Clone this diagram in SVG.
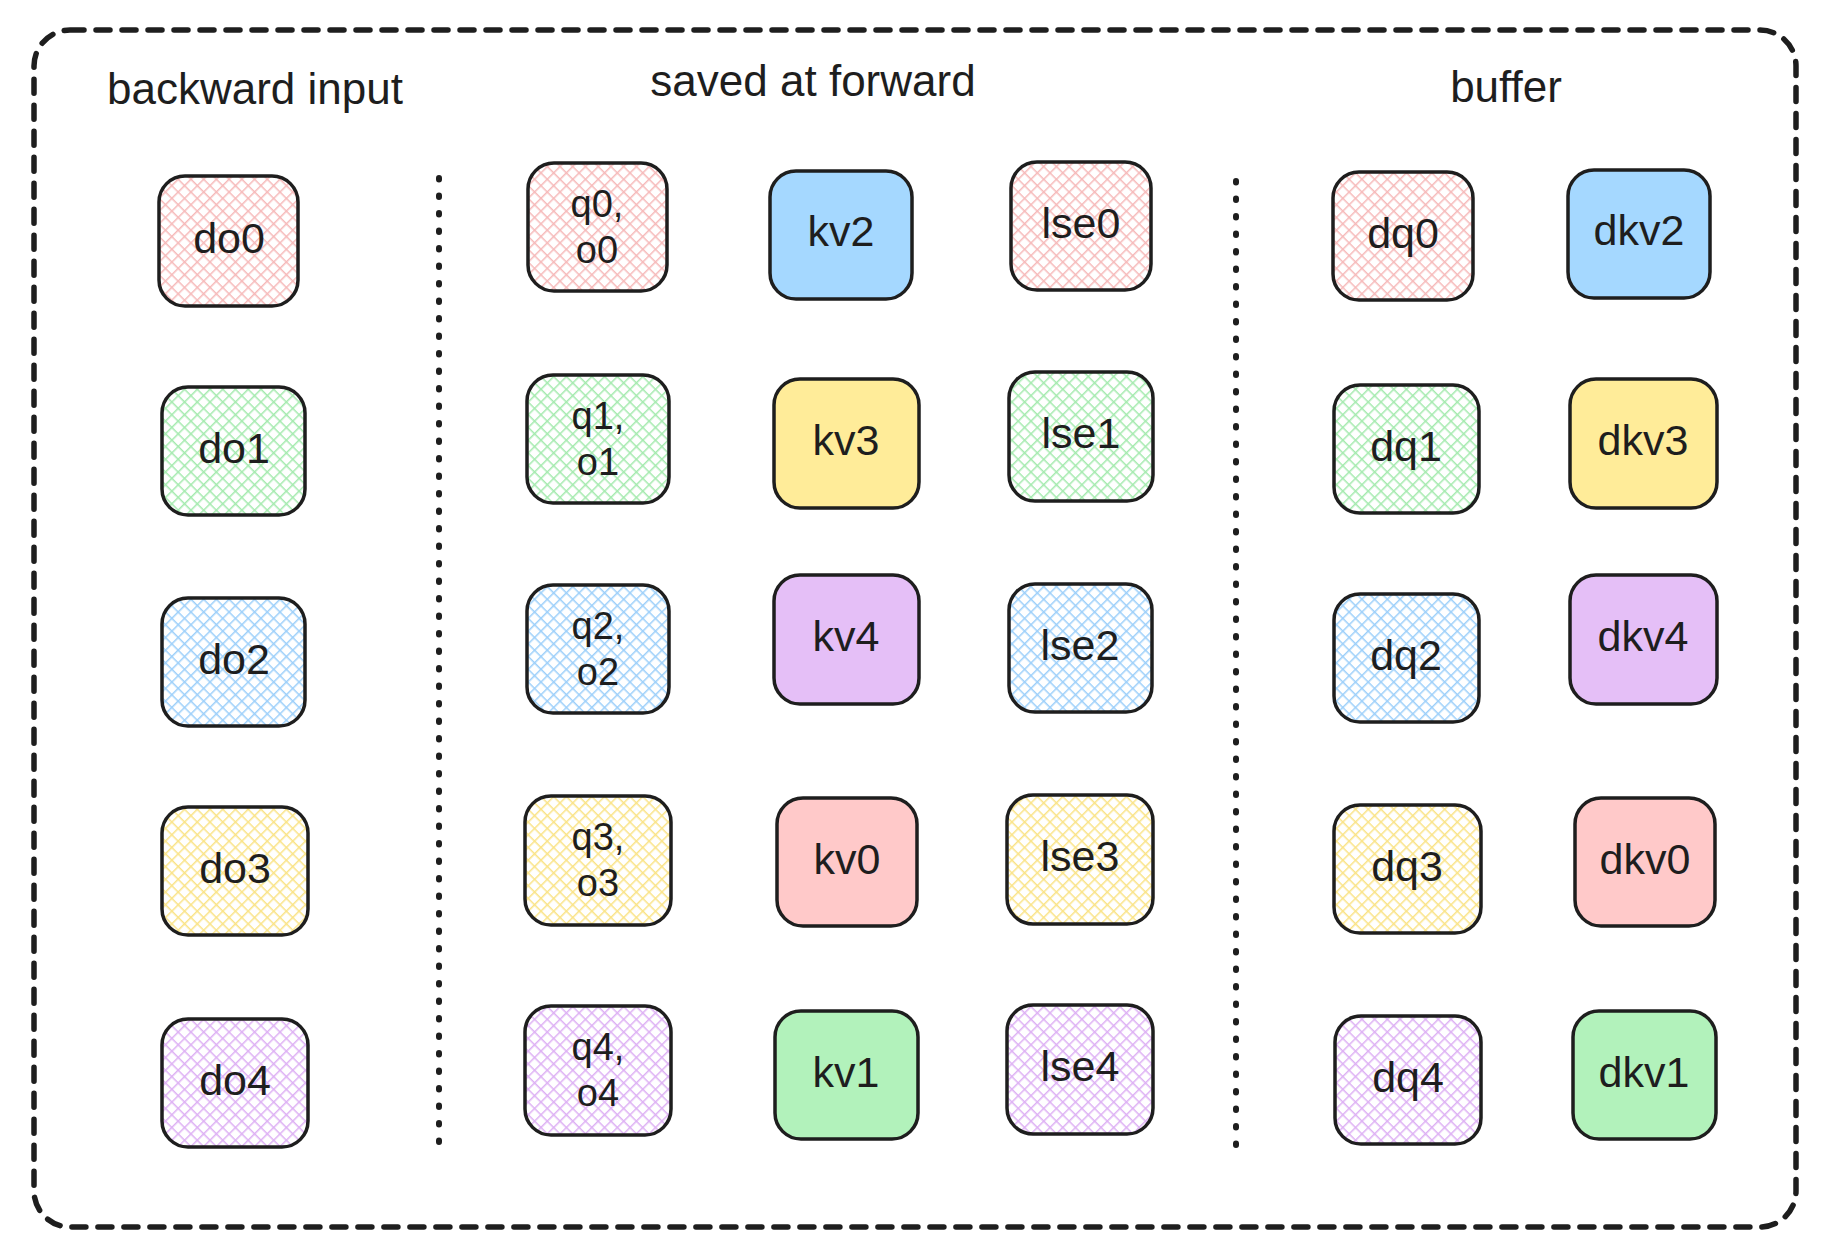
<svg xmlns="http://www.w3.org/2000/svg" width="1824" height="1250" viewBox="0 0 1824 1250">
<style>
.title{font-family:"Liberation Sans","DejaVu Sans",sans-serif;font-size:44px;fill:#1e1e1e;text-anchor:middle;dominant-baseline:central}
.lbl{font-family:"Liberation Sans","DejaVu Sans",sans-serif;font-size:43px;fill:#1e1e1e;text-anchor:middle;dominant-baseline:central}
.lbl2{font-family:"Liberation Sans","DejaVu Sans",sans-serif;font-size:38px;fill:#1e1e1e;text-anchor:middle;dominant-baseline:central}
.box{stroke:#1e1e1e;stroke-width:3.5}
.border{fill:none;stroke:#1e1e1e;stroke-width:5.5;stroke-dasharray:14 12;stroke-linecap:round}
.dots{fill:none;stroke:#1e1e1e;stroke-width:6;stroke-dasharray:1.5 16;stroke-linecap:round}
</style>
<defs>
<pattern id="hPink" patternUnits="userSpaceOnUse" width="9" height="9" patternTransform="rotate(45)"><rect width="9" height="9" fill="#fff"/><path d="M0,0H9M0,0V9" stroke="#f6b9b9" stroke-width="3"/></pattern>
<pattern id="hGreen" patternUnits="userSpaceOnUse" width="9" height="9" patternTransform="rotate(45)"><rect width="9" height="9" fill="#fff"/><path d="M0,0H9M0,0V9" stroke="#a4eaae" stroke-width="3"/></pattern>
<pattern id="hBlue" patternUnits="userSpaceOnUse" width="9" height="9" patternTransform="rotate(45)"><rect width="9" height="9" fill="#fff"/><path d="M0,0H9M0,0V9" stroke="#9ccffa" stroke-width="3"/></pattern>
<pattern id="hYellow" patternUnits="userSpaceOnUse" width="9" height="9" patternTransform="rotate(45)"><rect width="9" height="9" fill="#fff"/><path d="M0,0H9M0,0V9" stroke="#fae386" stroke-width="3"/></pattern>
<pattern id="hPurple" patternUnits="userSpaceOnUse" width="9" height="9" patternTransform="rotate(45)"><rect width="9" height="9" fill="#fff"/><path d="M0,0H9M0,0V9" stroke="#ddb0f4" stroke-width="3"/></pattern>
</defs>
<rect width="1824" height="1250" fill="#ffffff"/>
<rect class="border" x="34" y="30" width="1762" height="1197" rx="36"/>
<g id="titles">
<text class="title" x="255" y="88">backward input</text>
<text class="title" x="813" y="80">saved at forward</text>
<text class="title" x="1506" y="86">buffer</text>
</g>
<g id="connectors">
<line class="dots" x1="439" y1="178" x2="439" y2="1146"/>
<line class="dots" x1="1236" y1="181" x2="1236" y2="1149"/>
</g>
<g id="do0"><rect class="box" x="159" y="176" width="139" height="130" rx="26" fill="url(#hPink)"/><text class="lbl" x="229" y="238">do0</text></g>
<g id="do1"><rect class="box" x="162" y="387" width="143" height="128" rx="26" fill="url(#hGreen)"/><text class="lbl" x="234" y="448">do1</text></g>
<g id="do2"><rect class="box" x="162" y="598" width="143" height="128" rx="26" fill="url(#hBlue)"/><text class="lbl" x="234" y="659">do2</text></g>
<g id="do3"><rect class="box" x="162" y="807" width="146" height="128" rx="26" fill="url(#hYellow)"/><text class="lbl" x="235" y="868">do3</text></g>
<g id="do4"><rect class="box" x="162" y="1019" width="146" height="128" rx="26" fill="url(#hPurple)"/><text class="lbl" x="235" y="1080">do4</text></g>

<g id="q0"><rect class="box" x="528" y="163" width="139" height="128" rx="26" fill="url(#hPink)"/><text class="lbl2" x="597" y="204">q0,</text><text class="lbl2" x="597" y="250">o0</text></g>
<g id="q1"><rect class="box" x="527" y="375" width="142" height="128" rx="26" fill="url(#hGreen)"/><text class="lbl2" x="598" y="416">q1,</text><text class="lbl2" x="598" y="462">o1</text></g>
<g id="q2"><rect class="box" x="527" y="585" width="142" height="128" rx="26" fill="url(#hBlue)"/><text class="lbl2" x="598" y="626">q2,</text><text class="lbl2" x="598" y="672">o2</text></g>
<g id="q3"><rect class="box" x="525" y="796" width="146" height="129" rx="26" fill="url(#hYellow)"/><text class="lbl2" x="598" y="837">q3,</text><text class="lbl2" x="598" y="883">o3</text></g>
<g id="q4"><rect class="box" x="525" y="1006" width="146" height="129" rx="26" fill="url(#hPurple)"/><text class="lbl2" x="598" y="1047">q4,</text><text class="lbl2" x="598" y="1093">o4</text></g>

<g id="kv2"><rect class="box" x="770" y="171" width="142" height="128" rx="26" fill="#a5d8ff"/><text class="lbl" x="841" y="231">kv2</text></g>
<g id="kv3"><rect class="box" x="774" y="379" width="145" height="129" rx="26" fill="#ffec99"/><text class="lbl" x="846" y="440">kv3</text></g>
<g id="kv4"><rect class="box" x="774" y="575" width="145" height="129" rx="26" fill="#e5bff7"/><text class="lbl" x="846" y="636">kv4</text></g>
<g id="kv0"><rect class="box" x="777" y="798" width="140" height="128" rx="26" fill="#ffc9c9"/><text class="lbl" x="847" y="859">kv0</text></g>
<g id="kv1"><rect class="box" x="775" y="1011" width="143" height="128" rx="26" fill="#b2f2bb"/><text class="lbl" x="846" y="1072">kv1</text></g>

<g id="lse0"><rect class="box" x="1011" y="162" width="140" height="128" rx="26" fill="url(#hPink)"/><text class="lbl" x="1081" y="223">lse0</text></g>
<g id="lse1"><rect class="box" x="1009" y="372" width="144" height="129" rx="26" fill="url(#hGreen)"/><text class="lbl" x="1081" y="433">lse1</text></g>
<g id="lse2"><rect class="box" x="1009" y="584" width="143" height="128" rx="26" fill="url(#hBlue)"/><text class="lbl" x="1080" y="645">lse2</text></g>
<g id="lse3"><rect class="box" x="1007" y="795" width="146" height="129" rx="26" fill="url(#hYellow)"/><text class="lbl" x="1080" y="856">lse3</text></g>
<g id="lse4"><rect class="box" x="1007" y="1005" width="146" height="129" rx="26" fill="url(#hPurple)"/><text class="lbl" x="1080" y="1066">lse4</text></g>

<g id="dq0"><rect class="box" x="1333" y="172" width="140" height="128" rx="26" fill="url(#hPink)"/><text class="lbl" x="1403" y="233">dq0</text></g>
<g id="dq1"><rect class="box" x="1334" y="385" width="145" height="128" rx="26" fill="url(#hGreen)"/><text class="lbl" x="1406" y="446">dq1</text></g>
<g id="dq2"><rect class="box" x="1334" y="594" width="145" height="128" rx="26" fill="url(#hBlue)"/><text class="lbl" x="1406" y="655">dq2</text></g>
<g id="dq3"><rect class="box" x="1334" y="805" width="147" height="128" rx="26" fill="url(#hYellow)"/><text class="lbl" x="1407" y="866">dq3</text></g>
<g id="dq4"><rect class="box" x="1335" y="1016" width="146" height="128" rx="26" fill="url(#hPurple)"/><text class="lbl" x="1408" y="1077">dq4</text></g>

<g id="dkv2"><rect class="box" x="1568" y="170" width="142" height="128" rx="26" fill="#a5d8ff"/><text class="lbl" x="1639" y="230">dkv2</text></g>
<g id="dkv3"><rect class="box" x="1570" y="379" width="147" height="129" rx="26" fill="#ffec99"/><text class="lbl" x="1643" y="440">dkv3</text></g>
<g id="dkv4"><rect class="box" x="1570" y="575" width="147" height="129" rx="26" fill="#e5bff7"/><text class="lbl" x="1643" y="636">dkv4</text></g>
<g id="dkv0"><rect class="box" x="1575" y="798" width="140" height="128" rx="26" fill="#ffc9c9"/><text class="lbl" x="1645" y="859">dkv0</text></g>
<g id="dkv1"><rect class="box" x="1573" y="1011" width="143" height="128" rx="26" fill="#b2f2bb"/><text class="lbl" x="1644" y="1072">dkv1</text></g>
</svg>
